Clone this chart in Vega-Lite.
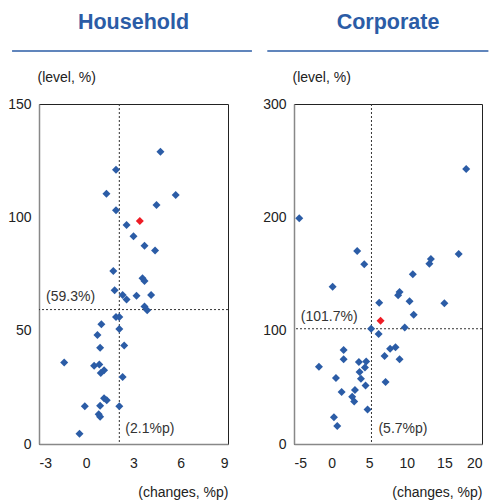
{
  "$schema": "https://vega.github.io/schema/vega-lite/v6.json",
  "padding": {"left": 7, "top": 11, "right": 0, "bottom": 0},
  "bounds": "flush",
  "spacing": 66,
  "config": {
    "font": "Liberation Sans",
    "view": {"stroke": "#222", "strokeWidth": 1},
    "axis": {"grid": false, "ticks": false, "labelFont": "Liberation Sans", "labelFontSize": 14, "labelColor": "#222", "domainColor": "#888", "domainWidth": 1.5, "titleFont": "Liberation Sans", "titleFontWeight": "normal", "titleFontSize": 14, "titleColor": "#222"},
    "title": {"color": "#2b5ca6", "fontSize": 21.5, "fontWeight": "bold", "anchor": "middle", "frame": "group", "font": "Liberation Sans"}
  },
  "datasets": {
    "household": [
      {"chg": 4.71, "lvl": 128.9, "hl": "other"},
      {"chg": 1.89, "lvl": 121.0, "hl": "other"},
      {"chg": 1.28, "lvl": 110.4, "hl": "other"},
      {"chg": 5.68, "lvl": 109.8, "hl": "other"},
      {"chg": 4.46, "lvl": 105.4, "hl": "other"},
      {"chg": 1.89, "lvl": 103.1, "hl": "other"},
      {"chg": 2.56, "lvl": 96.6, "hl": "other"},
      {"chg": 3.0, "lvl": 91.6, "hl": "other"},
      {"chg": 3.7, "lvl": 87.5, "hl": "other"},
      {"chg": 4.37, "lvl": 85.4, "hl": "other"},
      {"chg": 1.72, "lvl": 76.3, "hl": "other"},
      {"chg": 3.57, "lvl": 73.1, "hl": "other"},
      {"chg": 3.7, "lvl": 71.9, "hl": "other"},
      {"chg": 1.8, "lvl": 67.8, "hl": "other"},
      {"chg": 2.31, "lvl": 65.7, "hl": "other"},
      {"chg": 2.56, "lvl": 63.7, "hl": "other"},
      {"chg": 3.19, "lvl": 65.4, "hl": "other"},
      {"chg": 4.12, "lvl": 65.7, "hl": "other"},
      {"chg": 3.7, "lvl": 60.7, "hl": "other"},
      {"chg": 3.87, "lvl": 59.0, "hl": "other"},
      {"chg": 1.89, "lvl": 56.0, "hl": "other"},
      {"chg": 2.1, "lvl": 56.0, "hl": "other"},
      {"chg": 0.96, "lvl": 52.8, "hl": "other"},
      {"chg": 0.71, "lvl": 48.1, "hl": "other"},
      {"chg": 2.1, "lvl": 50.7, "hl": "other"},
      {"chg": 0.88, "lvl": 42.5, "hl": "other"},
      {"chg": 2.41, "lvl": 43.5, "hl": "other"},
      {"chg": -1.4, "lvl": 36.0, "hl": "other"},
      {"chg": 0.5, "lvl": 34.5, "hl": "other"},
      {"chg": 0.83, "lvl": 35.1, "hl": "other"},
      {"chg": 1.13, "lvl": 32.5, "hl": "other"},
      {"chg": 0.92, "lvl": 31.3, "hl": "other"},
      {"chg": 2.31, "lvl": 29.6, "hl": "other"},
      {"chg": 1.13, "lvl": 20.2, "hl": "other"},
      {"chg": 1.3, "lvl": 19.3, "hl": "other"},
      {"chg": -0.09, "lvl": 16.6, "hl": "other"},
      {"chg": 0.88, "lvl": 16.9, "hl": "other"},
      {"chg": 2.1, "lvl": 16.6, "hl": "other"},
      {"chg": 0.79, "lvl": 13.1, "hl": "other"},
      {"chg": 0.88, "lvl": 12.0, "hl": "other"},
      {"chg": -0.43, "lvl": 4.5, "hl": "other"},
      {"chg": 3.4, "lvl": 98.4, "hl": "latest"}
    ],
    "corporate": [
      {"chg": -4.3, "lvl": 199.1, "hl": "other"},
      {"chg": 17.9, "lvl": 242.7, "hl": "other"},
      {"chg": 3.4, "lvl": 170.3, "hl": "other"},
      {"chg": 4.34, "lvl": 158.5, "hl": "other"},
      {"chg": 16.9, "lvl": 167.7, "hl": "other"},
      {"chg": 13.2, "lvl": 163.3, "hl": "other"},
      {"chg": 13.0, "lvl": 159.1, "hl": "other"},
      {"chg": 10.8, "lvl": 149.7, "hl": "other"},
      {"chg": 0.14, "lvl": 138.8, "hl": "other"},
      {"chg": 9.04, "lvl": 134.2, "hl": "other"},
      {"chg": 8.85, "lvl": 131.2, "hl": "other"},
      {"chg": 10.37, "lvl": 125.9, "hl": "other"},
      {"chg": 15.0, "lvl": 124.1, "hl": "other"},
      {"chg": 6.33, "lvl": 124.7, "hl": "other"},
      {"chg": 10.92, "lvl": 114.1, "hl": "other"},
      {"chg": 5.26, "lvl": 101.8, "hl": "other"},
      {"chg": 9.73, "lvl": 102.9, "hl": "other"},
      {"chg": 6.25, "lvl": 97.1, "hl": "other"},
      {"chg": 8.5, "lvl": 85.3, "hl": "other"},
      {"chg": 7.78, "lvl": 84.1, "hl": "other"},
      {"chg": 1.6, "lvl": 82.9, "hl": "other"},
      {"chg": 7.04, "lvl": 77.7, "hl": "other"},
      {"chg": 1.6, "lvl": 74.7, "hl": "other"},
      {"chg": 9.04, "lvl": 74.7, "hl": "other"},
      {"chg": 3.63, "lvl": 72.4, "hl": "other"},
      {"chg": 4.6, "lvl": 72.9, "hl": "other"},
      {"chg": -1.68, "lvl": 68.2, "hl": "other"},
      {"chg": 4.43, "lvl": 67.6, "hl": "other"},
      {"chg": 3.72, "lvl": 63.5, "hl": "other"},
      {"chg": 0.58, "lvl": 58.3, "hl": "other"},
      {"chg": 3.9, "lvl": 57.6, "hl": "other"},
      {"chg": 7.18, "lvl": 54.7, "hl": "other"},
      {"chg": 4.52, "lvl": 51.7, "hl": "other"},
      {"chg": 3.1, "lvl": 47.6, "hl": "other"},
      {"chg": 1.33, "lvl": 45.9, "hl": "other"},
      {"chg": 2.74, "lvl": 41.7, "hl": "other"},
      {"chg": 3.0, "lvl": 37.6, "hl": "other"},
      {"chg": 4.78, "lvl": 30.5, "hl": "other"},
      {"chg": 0.31, "lvl": 23.5, "hl": "other"},
      {"chg": 0.75, "lvl": 15.9, "hl": "other"},
      {"chg": 6.51, "lvl": 108.8, "hl": "latest"}
    ]
  },
  "hconcat": [
    {
      "title": {"text": "Household", "offset": 17},
      "width": 189,
      "height": 340,
      "encoding": {
        "x": {"type": "quantitative", "scale": {"domain": [-3, 9], "nice": false, "zero": false},
          "axis": {"values": [-3, 0, 3, 6, 9], "labelExpr": "'' + datum.value", "labelPadding": 12, "title": "(changes, %p)", "titleX": 189, "titleY": 52, "titleAlign": "right", "titleBaseline": "alphabetic"}},
        "y": {"type": "quantitative", "scale": {"domain": [0, 150], "nice": false, "zero": false},
          "axis": {"values": [0, 50, 100, 150], "labelPadding": 8, "title": "(level, %)", "titleAngle": 0, "titleX": -2, "titleY": -23, "titleAlign": "left", "titleBaseline": "alphabetic"}}
      },
      "layer": [
        {
          "data": {"values": [{}]},
          "mark": {"type": "rule", "color": "#2b5ca6", "strokeWidth": 1.5},
          "encoding": {"x": {"datum": -4.71}, "x2": {"datum": 10.52}, "y": {"datum": 173.4}}
        },
        {
          "data": {"values": [{}]},
          "mark": {"type": "rule", "color": "#333", "strokeWidth": 1, "strokeDash": [2, 2]},
          "encoding": {"x": {"datum": 2.1}}
        },
        {
          "data": {"values": [{}]},
          "mark": {"type": "rule", "color": "#333", "strokeWidth": 1, "strokeDash": [2, 2]},
          "encoding": {"y": {"datum": 59.3}}
        },
        {
          "data": {"values": [{}]},
          "mark": {"type": "text", "align": "left", "baseline": "alphabetic", "dy": -9, "fontSize": 14, "color": "#333"},
          "encoding": {"x": {"datum": -2.55}, "y": {"datum": 59.3}, "text": {"value": "(59.3%)"}}
        },
        {
          "data": {"values": [{}]},
          "mark": {"type": "text", "align": "left", "baseline": "alphabetic", "dx": 6, "dy": -11, "fontSize": 14, "color": "#333"},
          "encoding": {"x": {"datum": 2.1}, "y": {"datum": 0}, "text": {"value": "(2.1%p)"}}
        },
        {
          "data": {"name": "household"},
          "mark": {"type": "point", "shape": "diamond", "filled": true, "size": 64, "opacity": 1},
          "encoding": {
            "x": {"field": "chg"},
            "y": {"field": "lvl"},
            "color": {"field": "hl", "type": "nominal", "scale": {"domain": ["other", "latest"], "range": ["#2b5ca6", "#ee1c25"]}, "legend": null}
          }
        }
      ]
    },
    {
      "title": {"text": "Corporate", "offset": 17},
      "width": 188,
      "height": 340,
      "encoding": {
        "x": {"type": "quantitative", "scale": {"domain": [-5, 20], "nice": false, "zero": false},
          "axis": {"values": [-5, 0, 5, 10, 15, 20], "labelExpr": "'' + datum.value", "labelPadding": 12, "title": "(changes, %p)", "titleX": 188, "titleY": 52, "titleAlign": "right", "titleBaseline": "alphabetic"}},
        "y": {"type": "quantitative", "scale": {"domain": [0, 300], "nice": false, "zero": false},
          "axis": {"values": [0, 100, 200, 300], "labelPadding": 8, "title": "(level, %)", "titleAngle": 0, "titleX": -2, "titleY": -23, "titleAlign": "left", "titleBaseline": "alphabetic"}}
      },
      "layer": [
        {
          "data": {"values": [{}]},
          "mark": {"type": "rule", "color": "#2b5ca6", "strokeWidth": 1.5},
          "encoding": {"x": {"datum": -8.55}, "x2": {"datum": 20.85}, "y": {"datum": 346.8}}
        },
        {
          "data": {"values": [{}]},
          "mark": {"type": "rule", "color": "#333", "strokeWidth": 1, "strokeDash": [2, 2]},
          "encoding": {"x": {"datum": 5.3}}
        },
        {
          "data": {"values": [{}]},
          "mark": {"type": "rule", "color": "#333", "strokeWidth": 1, "strokeDash": [2, 2]},
          "encoding": {"y": {"datum": 101.7}}
        },
        {
          "data": {"values": [{}]},
          "mark": {"type": "text", "align": "left", "baseline": "alphabetic", "dy": -8, "fontSize": 14, "color": "#333"},
          "encoding": {"x": {"datum": -4.1}, "y": {"datum": 101.7}, "text": {"value": "(101.7%)"}}
        },
        {
          "data": {"values": [{}]},
          "mark": {"type": "text", "align": "left", "baseline": "alphabetic", "dx": 7, "dy": -11, "fontSize": 14, "color": "#333"},
          "encoding": {"x": {"datum": 5.3}, "y": {"datum": 0}, "text": {"value": "(5.7%p)"}}
        },
        {
          "data": {"name": "corporate"},
          "mark": {"type": "point", "shape": "diamond", "filled": true, "size": 64, "opacity": 1},
          "encoding": {
            "x": {"field": "chg"},
            "y": {"field": "lvl"},
            "color": {"field": "hl", "type": "nominal", "scale": {"domain": ["other", "latest"], "range": ["#2b5ca6", "#ee1c25"]}, "legend": null}
          }
        }
      ]
    }
  ]
}
